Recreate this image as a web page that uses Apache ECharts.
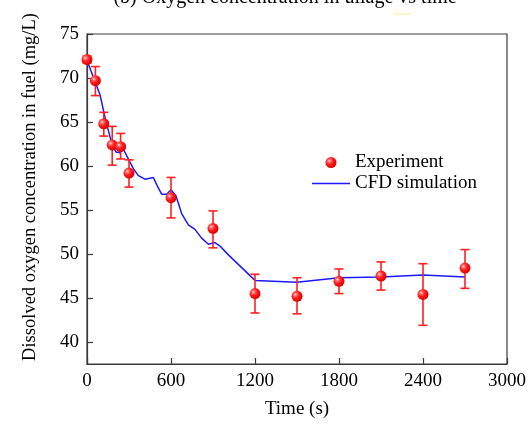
<!DOCTYPE html>
<html>
<head>
<meta charset="utf-8">
<script src="https://cdn.jsdelivr.net/npm/echarts@6/dist/echarts.min.js"></script>
<style>html,body{margin:0;padding:0;background:#fff;}#c{width:531px;height:424px;}</style>
</head>
<body>
<div id="c"></div>
<script>
// Experiment data
var expTime  = [0, 60, 120, 180, 240, 300, 600, 900, 1200, 1500, 1800, 2100, 2400, 2700];
var expValue = [72.1, 69.7, 64.8, 62.4, 62.2, 59.2, 56.4, 52.9, 45.5, 45.2, 46.9, 47.5, 45.4, 48.4];
var expLow   = [71.7, 68.0, 63.4, 60.1, 60.8, 57.6, 54.1, 50.7, 43.3, 43.2, 45.5, 45.9, 41.9, 46.1];
var expHigh  = [72.5, 71.3, 66.1, 64.5, 63.7, 60.7, 58.7, 54.9, 47.7, 47.3, 48.3, 49.1, 48.9, 50.5];
// CFD simulation
var cfdTime  = [0, 57, 93, 129, 176, 207, 236, 260, 295, 331, 367, 414, 474, 500, 533, 569, 600, 636, 676, 724, 771, 819, 867, 914, 950, 1010, 1200, 1500, 1800, 2100, 2400, 2700];
var cfdValue = [72.0, 69.6, 68.1, 65.5, 62.6, 61.6, 61.5, 61.9, 60.8, 59.7, 58.9, 58.5, 58.7, 57.8, 56.8, 56.8, 57.3, 56.6, 54.6, 53.3, 52.8, 51.8, 51.1, 51.3, 50.9, 49.9, 47.0, 46.8, 47.3, 47.4, 47.6, 47.4];
// Ticks
var xTicks = [0, 600, 1200, 1800, 2400, 3000];
var yTicks = [40, 45, 50, 55, 60, 65, 70, 75];

var FONT = '"Liberation Serif", "Times New Roman", serif';
var chart = echarts.init(document.getElementById('c'), null, {renderer: 'canvas'});

var expPts = expTime.map(function (t, i) { return [t, expValue[i]]; });
var errPts = expTime.map(function (t, i) { return [t, expLow[i], expHigh[i]]; });
var cfdPts = cfdTime.map(function (t, i) { return [t, cfdValue[i]]; });

var sphere = new echarts.graphic.RadialGradient(0.35, 0.35, 0.7, [
  {offset: 0, color: '#ffffff'},
  {offset: 0.18, color: '#ff7070'},
  {offset: 0.5, color: '#ff1a1a'},
  {offset: 1, color: '#d80000'}
]);

chart.setOption({
  animation: false,
  backgroundColor: '#fff',
  grid: {left: 87, right: 24, top: 34, bottom: 55, show: true, borderColor: '#3a3a3a', borderWidth: 1.2, containLabel: false},
  xAxis: {
    type: 'value', min: 0, max: 3000, interval: 600,
    name: 'Time (s)', nameLocation: 'middle', nameGap: 36,
    nameTextStyle: {fontFamily: FONT, fontSize: 19, color: '#000'},
    axisLine: {show: true, onZero: false, lineStyle: {color: '#3a3a3a', width: 1.2}},
    axisTick: {show: true, inside: true, length: 6, lineStyle: {color: '#3a3a3a', width: 1.2}, customValues: xTicks},
    axisLabel: {fontFamily: FONT, fontSize: 19, color: '#000', margin: 8, customValues: xTicks,
      formatter: function (v) { return String(v); }},
    splitLine: {show: false}
  },
  yAxis: {
    type: 'value', min: 37.5, max: 75,
    axisLine: {show: true, onZero: false, lineStyle: {color: '#3a3a3a', width: 1.2}},
    axisTick: {show: true, inside: true, length: 6, lineStyle: {color: '#3a3a3a', width: 1.2}, customValues: yTicks},
    axisLabel: {fontFamily: FONT, fontSize: 19, color: '#000', margin: 8, customValues: yTicks,
      formatter: function (v) { return String(v); }},
    splitLine: {show: false}
  },
  legend: {
    orient: 'vertical', left: 312, top: 153, padding: 0, itemWidth: 38, itemHeight: 11, itemGap: 2,
    symbolKeepAspect: true,
    textStyle: {fontFamily: FONT, fontSize: 19, color: '#000', lineHeight: 19},
    data: [
      {name: 'Experiment', icon: 'circle'},
      {name: 'CFD simulation', icon: 'path://M0,0 L380,0 L380,15 L0,15 Z'}
    ]
  },
  graphic: [
    {type: 'text', position: [285, -2], style: {text: '(b) Oxygen concentration in ullage vs time', fontFamily: FONT, fontSize: 20, fill: '#000', textAlign: 'center', textVerticalAlign: 'middle'}},
    {type: 'text', position: [30, 187], rotation: Math.PI / 2, style: {text: 'Dissolved oxygen concentration in fuel (mg/L)', fontFamily: FONT, fontSize: 18.5, fill: '#000', textAlign: 'center', textVerticalAlign: 'middle'}},
    {type: 'line', shape: {x1: 393, y1: 14, x2: 411, y2: 14}, style: {stroke: '#f3ec9c', lineWidth: 1}}
  ],
  series: [
    {
      name: 'CFD simulation', type: 'line', data: cfdPts, showSymbol: false, symbol: 'none', smooth: false,
      lineStyle: {color: '#1a1aff', width: 1.5}, itemStyle: {color: '#1a1aff'}, z: 2
    },
    {
      name: 'errorbar', type: 'custom', data: errPts, z: 3,
      renderItem: function (params, api) {
        var x = api.value(0);
        var lo = api.coord([x, api.value(1)]);
        var hi = api.coord([x, api.value(2)]);
        var w = 4.5;
        var st = {stroke: '#ff2020', lineWidth: 1.6};
        return {type: 'group', children: [
          {type: 'line', shape: {x1: lo[0], y1: lo[1], x2: hi[0], y2: hi[1]}, style: st},
          {type: 'line', shape: {x1: lo[0] - w, y1: lo[1], x2: lo[0] + w, y2: lo[1]}, style: st},
          {type: 'line', shape: {x1: hi[0] - w, y1: hi[1], x2: hi[0] + w, y2: hi[1]}, style: st}
        ]};
      }
    },
    {
      name: 'Experiment', type: 'scatter', data: expPts, symbol: 'circle', symbolSize: 11, z: 4,
      itemStyle: {color: sphere, opacity: 1}
    }
  ]
});
</script>
</body>
</html>
